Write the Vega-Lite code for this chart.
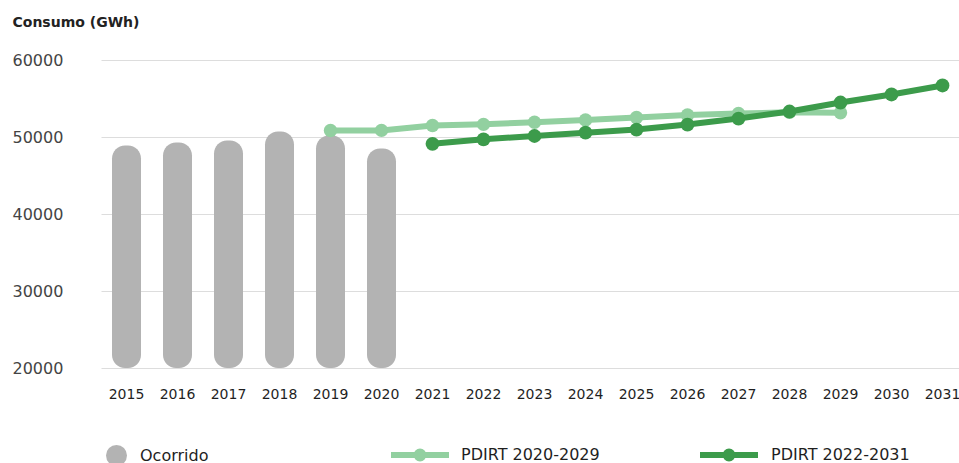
{
  "$schema": "https://vega.github.io/schema/vega-lite/v6.json",
  "width": 867,
  "height": 308,
  "autosize": {"type": "none"},
  "padding": {"left": 101, "top": 60, "right": 0, "bottom": 95},
  "background": "white",
  "config": {
    "view": {"stroke": null},
    "font": "DejaVu Sans",
    "legend": {"padding": 0, "orient": "none"}
  },
  "data": {
    "values": [
      {"year": "2015", "value": 48900, "series": "Ocorrido"},
      {"year": "2016", "value": 49290, "series": "Ocorrido"},
      {"year": "2017", "value": 49550, "series": "Ocorrido"},
      {"year": "2018", "value": 50710, "series": "Ocorrido"},
      {"year": "2019", "value": 50190, "series": "Ocorrido"},
      {"year": "2020", "value": 48510, "series": "Ocorrido"},
      {"year": "2019", "value": 50840, "series": "PDIRT 2020-2029"},
      {"year": "2020", "value": 50860, "series": "PDIRT 2020-2029"},
      {"year": "2021", "value": 51490, "series": "PDIRT 2020-2029"},
      {"year": "2022", "value": 51640, "series": "PDIRT 2020-2029"},
      {"year": "2023", "value": 51920, "series": "PDIRT 2020-2029"},
      {"year": "2024", "value": 52200, "series": "PDIRT 2020-2029"},
      {"year": "2025", "value": 52530, "series": "PDIRT 2020-2029"},
      {"year": "2026", "value": 52860, "series": "PDIRT 2020-2029"},
      {"year": "2027", "value": 53050, "series": "PDIRT 2020-2029"},
      {"year": "2028", "value": 53200, "series": "PDIRT 2020-2029"},
      {"year": "2029", "value": 53150, "series": "PDIRT 2020-2029"},
      {"year": "2021", "value": 49120, "series": "PDIRT 2022-2031"},
      {"year": "2022", "value": 49700, "series": "PDIRT 2022-2031"},
      {"year": "2023", "value": 50130, "series": "PDIRT 2022-2031"},
      {"year": "2024", "value": 50560, "series": "PDIRT 2022-2031"},
      {"year": "2025", "value": 50970, "series": "PDIRT 2022-2031"},
      {"year": "2026", "value": 51620, "series": "PDIRT 2022-2031"},
      {"year": "2027", "value": 52400, "series": "PDIRT 2022-2031"},
      {"year": "2028", "value": 53310, "series": "PDIRT 2022-2031"},
      {"year": "2029", "value": 54480, "series": "PDIRT 2022-2031"},
      {"year": "2030", "value": 55520, "series": "PDIRT 2022-2031"},
      {"year": "2031", "value": 56690, "series": "PDIRT 2022-2031"}
    ]
  },
  "encoding": {
    "x": {
      "field": "year",
      "type": "ordinal",
      "scale": {
        "domain": ["2015","2016","2017","2018","2019","2020","2021","2022","2023","2024","2025","2026","2027","2028","2029","2030","2031"],
        "paddingInner": 0,
        "paddingOuter": 0
      },
      "axis": {
        "title": null,
        "labelAngle": 0,
        "domain": false,
        "ticks": false,
        "labelPadding": 19,
        "labelFontSize": 14,
        "labelColor": "#1f1f1f"
      }
    },
    "y": {
      "field": "value",
      "type": "quantitative",
      "scale": {"domain": [20000, 60000], "zero": false, "nice": false},
      "axis": {
        "title": "Consumo (GWh)",
        "titleAngle": 0,
        "titleAlign": "left",
        "titleBaseline": "middle",
        "titleX": -89,
        "titleY": -38,
        "titleFontSize": 14,
        "titleFontWeight": "bold",
        "titleColor": "#222222",
        "values": [20000, 30000, 40000, 50000, 60000],
        "format": "d",
        "domain": false,
        "ticks": false,
        "labelAlign": "left",
        "labelPadding": 89,
        "labelFontSize": 16,
        "labelColor": "#444444",
        "gridColor": "#dddddd",
        "gridWidth": 1
      }
    }
  },
  "layer": [
    {
      "transform": [{"filter": "datum.series === 'Ocorrido'"}],
      "mark": {"type": "bar", "size": 29, "cornerRadius": 13},
      "encoding": {
        "y2": {"datum": 20000},
        "color": {
          "field": "series",
          "type": "nominal",
          "scale": {"range": ["#b3b3b3"]},
          "legend": {
            "title": null,
            "orient": "none",
            "legendX": 4,
            "legendY": 384,
            "symbolType": "circle",
            "symbolSize": 441,
            "symbolOpacity": 1,
            "labelOffset": 12,
            "labelFontSize": 16,
            "labelColor": "#1f1f1f"
          }
        }
      }
    },
    {
      "transform": [{"filter": "datum.series === 'PDIRT 2020-2029'"}],
      "mark": {"type": "line", "strokeWidth": 6, "point": {"filled": true, "size": 180, "opacity": 1}},
      "encoding": {
        "color": {
          "field": "series",
          "type": "nominal",
          "scale": {"range": ["#92d0a0"]},
          "legend": {
            "title": null,
            "orient": "none",
            "legendX": 287,
            "legendY": 363,
            "symbolType": "M -1 0 L 1 0 M 0.12 0 A 0.12 0.12 0 1 1 -0.12 0 A 0.12 0.12 0 1 1 0.12 0 Z",
            "symbolSize": 3364,
            "symbolStrokeWidth": 6,
            "symbolFillColor": "#92d0a0",
            "symbolStrokeColor": "#92d0a0",
            "labelOffset": 9,
            "labelFontSize": 16,
            "labelColor": "#1f1f1f"
          }
        }
      }
    },
    {
      "transform": [{"filter": "datum.series === 'PDIRT 2022-2031'"}],
      "mark": {"type": "line", "strokeWidth": 6, "point": {"filled": true, "size": 190, "opacity": 1}},
      "encoding": {
        "color": {
          "field": "series",
          "type": "nominal",
          "scale": {"range": ["#3c9b4b"]},
          "legend": {
            "title": null,
            "orient": "none",
            "legendX": 596,
            "legendY": 363,
            "symbolType": "M -1 0 L 1 0 M 0.12 0 A 0.12 0.12 0 1 1 -0.12 0 A 0.12 0.12 0 1 1 0.12 0 Z",
            "symbolSize": 3364,
            "symbolStrokeWidth": 6,
            "symbolFillColor": "#3c9b4b",
            "symbolStrokeColor": "#3c9b4b",
            "labelOffset": 10,
            "labelFontSize": 16,
            "labelColor": "#1f1f1f"
          }
        }
      }
    }
  ],
  "resolve": {
    "scale": {"color": "independent"},
    "legend": {"color": "independent"}
  }
}
